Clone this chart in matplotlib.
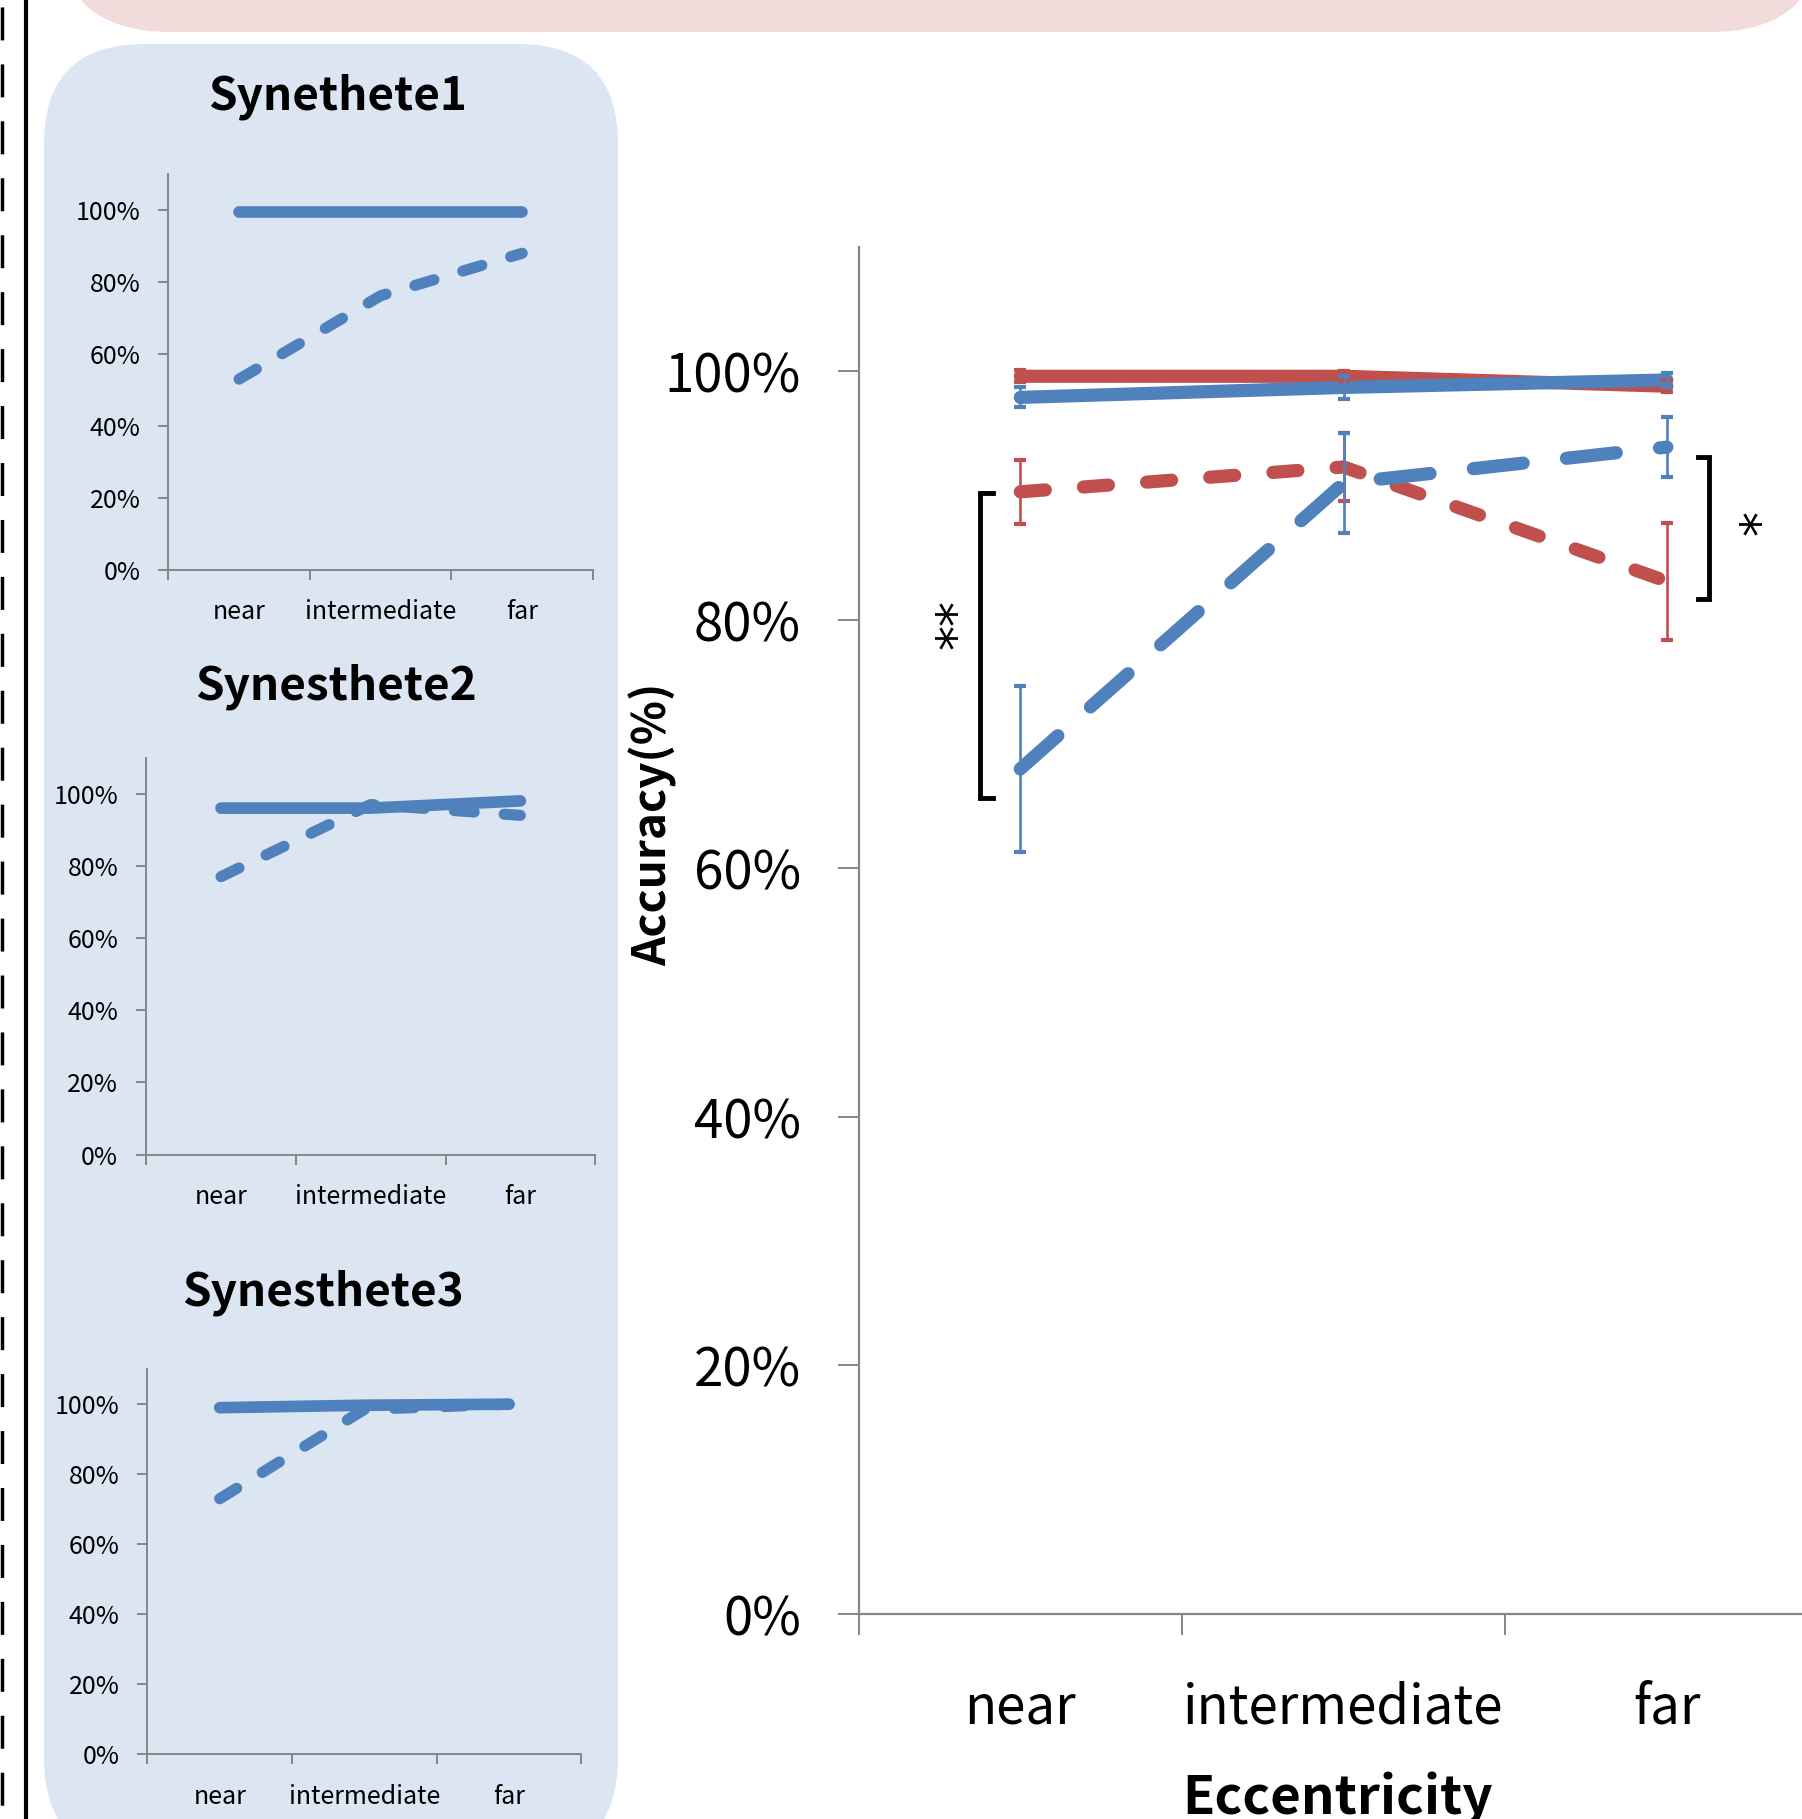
import numpy as np
import matplotlib
matplotlib.use("Agg")
import matplotlib.pyplot as plt
from matplotlib.patches import FancyBboxPatch

plt.rcParams['font.family'] = ['Noto Sans CJK KR', 'DejaVu Sans']

# eccentricity conditions
ecc = ["near", "intermediate", "far"]

# group accuracy (%) with error bars
red_solid = [99.6, 99.6, 98.8]
red_solid_err = [0.5, 0.4, 0.5]
blue_solid = [97.9, 98.7, 99.3]
blue_solid_err = [0.8, 0.9, 0.6]
red_dash = [90.3, 92.3, 83.1]
red_dash_err = [2.6, 2.7, 4.7]
blue_dash = [68.0, 91.0, 93.9]
blue_dash_err = [6.7, 4.0, 2.4]

# individual synesthetes (%)
syn_titles = ["Synethete1", "Synesthete2", "Synesthete3"]
syn1_solid = [99.4, 99.4, 99.4]
syn1_dash = [53.0, 76.2, 88.0]
syn2_solid = [96.0, 96.0, 98.0]
syn2_dash = [77.0, 97.0, 94.0]
syn3_solid = [99.0, 99.7, 100.0]
syn3_dash = [73.0, 98.5, 100.0]

BLUE = "#4F81BD"
RED = "#C0504D"
GRAY = "#868686"
PINK_BG = "#F2DCDB"
BLUE_BG = "#DCE6F2"

W, H = 1802, 1819
fig = plt.figure(figsize=(W / 100, H / 100), dpi=100)

# backdrop drawn in pixel units
bg = fig.add_axes([0, 0, 1, 1], zorder=-10)
bg.set_xlim(0, W)
bg.set_ylim(H, 0)
bg.axis("off")
bg.add_patch(FancyBboxPatch((55, -300), 1771, 332,
                            boxstyle="round,pad=0,rounding_size=115",
                            fc=PINK_BG, ec="none"))
bg.add_patch(FancyBboxPatch((44, 44), 574, 1814,
                            boxstyle="round,pad=0,rounding_size=100",
                            fc=BLUE_BG, ec="none"))
bg.plot([25.5, 25.5], [0, H], color="black", lw=3)
bg.plot([1.8, 1.8], [0, H], color="black", lw=2.5,
        linestyle=(14.4, (9.5, 6.9)), dash_capstyle="butt")

x = np.arange(len(ecc))
pct = lambda v, pos: f"{v:.0f}%"


def style_axes(ax, tick_len, tick_pad, labelsize, xpad):
    ax.set_facecolor("none")
    for s in ("top", "right"):
        ax.spines[s].set_visible(False)
    for s in ("left", "bottom"):
        ax.spines[s].set_color(GRAY)
        ax.spines[s].set_linewidth(1.4)
    ax.set_xlim(-0.5, 2.5)
    ax.set_ylim(0, 110)
    ax.set_yticks(np.arange(0, 101, 20))
    ax.yaxis.set_major_formatter(pct)
    ax.set_xticks([-0.5, 0.5, 1.5, 2.5])
    ax.set_xticklabels([])
    ax.set_xticks(x, minor=True)
    ax.set_xticklabels(ecc, minor=True)
    ax.tick_params(axis="both", which="major", length=tick_len, width=1.4,
                   color=GRAY, labelsize=labelsize)
    ax.tick_params(axis="y", pad=tick_pad)
    ax.tick_params(axis="x", which="minor", length=0, pad=xpad,
                   labelsize=labelsize)


# small panels
panels = [
    ([0.0934, 0.6867, 0.2357, 0.2176], syn1_solid, syn1_dash, (0.1874, 0.9470)),
    ([0.0811, 0.3653, 0.2492, 0.2182], syn2_solid, syn2_dash, (0.1867, 0.6225)),
    ([0.0818, 0.0355, 0.2408, 0.2118], syn3_solid, syn3_dash, (0.1790, 0.2895)),
]
for (rect, solid, dash, tpos), title in zip(panels, syn_titles):
    sax = fig.add_axes(rect)
    style_axes(sax, 7.5, 12.6, 18, 21)
    sax.plot(x, solid, color=BLUE, lw=8.4, solid_capstyle="round")
    sax.plot(x, dash, color=BLUE, lw=8.0, linestyle=(0, (1.8, 2.7)),
             dash_capstyle="round")
    fig.text(tpos[0], tpos[1], title, ha="center", va="center",
             fontsize=33, fontweight="bold")

# main chart
ax = fig.add_axes([0.4765, 0.1127, 0.5382, 0.7515])
style_axes(ax, 15, 26.7, 38, 48)
ax.spines["bottom"].set_linewidth(1.6)
ax.spines["left"].set_linewidth(1.6)

ax.plot(x, red_solid, color=RED, lw=9.5, solid_capstyle="round", zorder=2)
ax.plot(x, red_dash, color=RED, lw=9.5, linestyle=(0, (1.9, 2.9)),
        dash_capstyle="round", zorder=2)
ax.plot(x, blue_solid, color=BLUE, lw=9.5, solid_capstyle="round", zorder=3)
ax.plot(x, blue_dash, color=BLUE, lw=9.5, linestyle=(0, (3.8, 3.3)),
        dash_capstyle="round", zorder=3)
for vals, err, col in [(red_solid, red_solid_err, RED), (red_dash, red_dash_err, RED),
                       (blue_solid, blue_solid_err, BLUE), (blue_dash, blue_dash_err, BLUE)]:
    ax.errorbar(x, vals, yerr=err, fmt="none", ecolor=col, elinewidth=1.9,
                capsize=4.2, capthick=3.0, zorder=5)

# significance brackets
star_font = dict(rotation=270, ha="center", va="center", fontsize=36,
                 family="DejaVu Sans")
lo, hi = blue_dash[0] - 2.3, red_dash[0] - 0.1
ax.plot([-0.084, -0.125, -0.125, -0.084], [hi, hi, lo, lo], color="black",
        lw=3.5, solid_joinstyle="miter", clip_on=False)
ax.text(-0.272, (hi + lo) / 2 + 1.5, "**", **star_font)
lo, hi = red_dash[2] - 1.4, blue_dash[2] - 0.8
ax.plot([2.097, 2.131, 2.131, 2.097], [hi, hi, lo, lo], color="black",
        lw=3.5, solid_joinstyle="miter", clip_on=False)
ax.text(2.216, (hi + lo) / 2 + 0.3, "*", **star_font)

fig.text(0.3625, 0.547, "Accuracy(%)", rotation=90, ha="center", va="center",
         fontsize=33, fontweight="bold")
fig.text(0.742, 0.0027, "Eccentricity", ha="center", va="baseline",
         fontsize=38, fontweight="bold")

fig.savefig("out.png", dpi=100)
